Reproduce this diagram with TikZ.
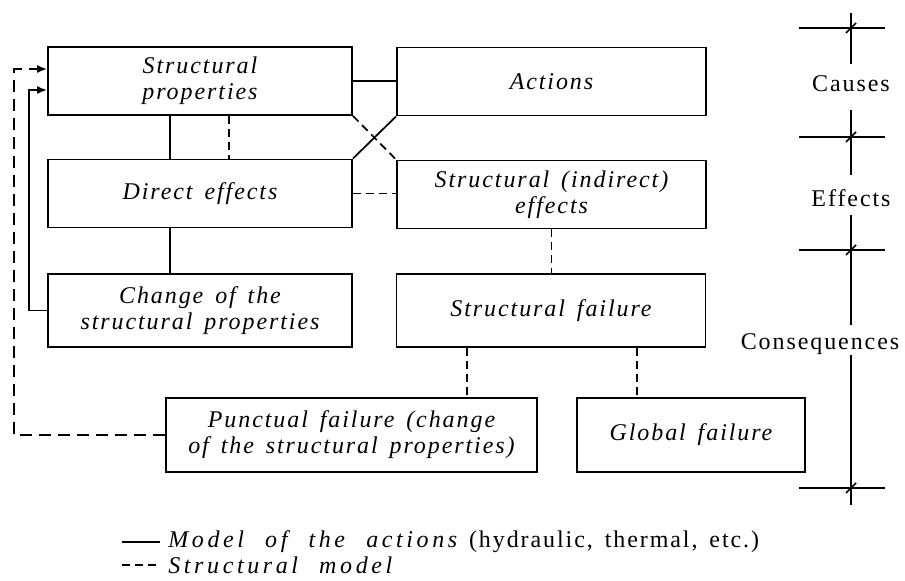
\documentclass[tikz,border=0pt]{standalone}
\usepackage{fontspec}
\setmainfont{Liberation Serif}[LetterSpace=8, WordSpace=1.5]
\newfontfamily\legendfont{Liberation Serif}[LetterSpace=15, WordSpace=2.2]
\usetikzlibrary{arrows.meta, positioning, calc}

\begin{document}
\begin{tikzpicture}[x=0.5pt, y=-0.5pt,
    block/.style={rectangle, draw=black, line width=0.9pt, align=center, minimum height=34pt, inner sep=2pt, font=\fontsize{12}{13}\selectfont\itshape},
    leftbox/.style={block, minimum width=152pt},
    rightbox/.style={block, minimum width=154.5pt},
    link/.style={draw=black, line width=0.85pt},
    dlink/.style={link, dash pattern=on 4pt off 2.5pt},
    feed/.style={link, -{Latex[length=5pt,width=4pt]}},
    scalelabel/.style={font=\fontsize{12}{13}\selectfont, inner sep=0pt},
    legend/.style={font=\fontsize{12}{13}\selectfont, anchor=west, inner sep=0pt}
]
    \useasboundingbox (0,0) rectangle (905,581);

    % Boxes
    \node[leftbox] (sp) at (200,81) {Structural\\properties};
    \node[rightbox] (act) at (551.5,81.5) {Actions};
    \node[leftbox] (de) at (200,193.5) {Direct effects};
    \node[rightbox] (ind) at (551.5,194.5) {Structural (indirect)\\effects};
    \node[leftbox, minimum height=36.5pt] (chg) at (200,310.5) {Change of the\\structural properties};
    \node[rightbox, minimum height=36.5pt] (sf) at (551,310.5) {Structural failure};
    \node[block, minimum width=185.5pt, minimum height=37pt] (pf) at (351.5,435) {Punctual failure (change\\of the structural properties)};
    \node[block, minimum width=114pt, minimum height=37pt] (gf) at (691,435) {Global failure};

    % Links
    \draw[link] (sp.east) -- (sp.east -| act.west);
    \draw[link] ([xshift=-15pt]sp.south) -- ([xshift=-15pt]de.north);
    \draw[dlink] ([xshift=14.5pt]sp.south) -- ([xshift=14.5pt]de.north);
    \draw[link] (de.north east) -- (act.south west);
    \draw[dlink] (sp.south east) -- (ind.north west);
    \draw[dlink] (de.east) -- (de.east -| ind.west);
    \draw[link] ([xshift=-15pt]de.south) -- ([xshift=-15pt]chg.north);
    \draw[dlink] (ind.south) -- (ind.south |- sf.north);
    \draw[dlink] ([xshift=-42pt]sf.south) -- ([xshift=-42pt]sf.south |- pf.north);
    \draw[dlink] ([xshift=43pt]sf.south) -- ([xshift=43pt]sf.south |- gf.north);

    % Feedback
    \draw[feed] (chg.west) -- ++(-9pt,0) |- ([yshift=-4.5pt]sp.west);
    \draw[feed, dash pattern=on 6pt off 3.5pt] (pf.west) -- ++(-75.5pt,0) |- ([yshift=6pt]sp.west);

    % Scale
    \node[scalelabel] (causes) at (851,84) {Causes};
    \node[scalelabel] (effects) at (851,198) {Effects};
    \node[scalelabel] (conseq) at (820,344) {Consequences};
    \coordinate (tk1) at (851,28);
    \coordinate (tk2) at (851,137);
    \coordinate (tk3) at (851,250);
    \coordinate (tk4) at (851,488);
    \foreach \t in {tk1,tk2,tk3,tk4} {
        \draw[link] (\t) ++(-52,0) -- ++(86,0);
        \draw[link] (\t) ++(-5,5) -- ++(10,-10);
    }
    \draw[link] ($(tk1)+(0,-15)$) -- ($(causes.center)+(0,-20)$);
    \draw[link] ($(causes.center)+(0,26)$) -- ($(effects.center)+(0,-23)$);
    \draw[link] ($(effects.center)+(0,17)$) -- ($(conseq.center -| tk1)+(0,-19)$);
    \draw[link] ($(conseq.center -| tk1)+(0,11)$) -- ($(tk4)+(0,17)$);

    % Legend
    \node[legend] (lgact) at (168,542) {{\legendfont\itshape Model of the actions} (hydraulic, thermal, etc.)};
    \node[legend] (lgstr) at (168,565) {\legendfont\itshape Structural model};
    \draw[link] ([xshift=-23pt]lgact.west) -- ([xshift=-4pt]lgact.west);
    \draw[dlink] ([xshift=-23pt]lgstr.west) -- ([xshift=-4pt]lgstr.west);

\end{tikzpicture}
\end{document}
